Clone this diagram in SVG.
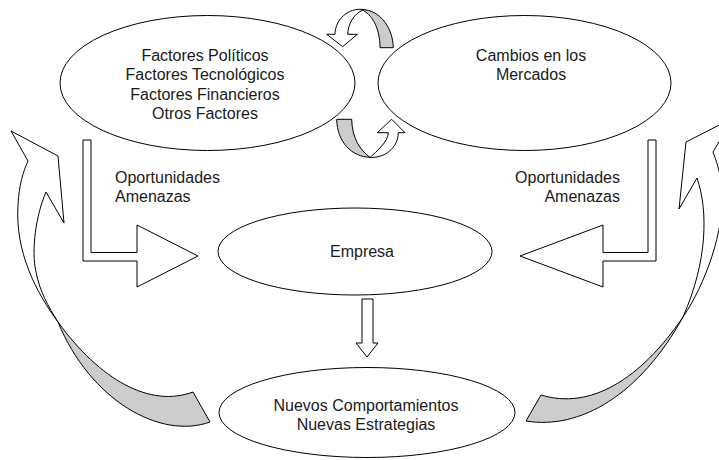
<svg xmlns="http://www.w3.org/2000/svg" width="719" height="460" viewBox="0 0 719 460">
<style>
.node{fill:#fff;stroke:#000;stroke-width:1}
.arr{fill:#fff;stroke:#000;stroke-width:1;stroke-linejoin:miter}
.back{fill:#cccccc;stroke:#000;stroke-width:1}
text{font-family:"Liberation Sans",Arial,sans-serif;font-size:16px;fill:#1a1a1a}
.c{text-anchor:middle}
.r{text-anchor:end}
</style>
<rect width="719" height="460" fill="#fff"/>
<g id="connectors">
  <!-- top swap arrow -->
  <path class="back" d="M380,47.7 L393.3,47.7 C393,30 382,10 361,9.3 C372,14 380,28 380,47.7 Z"/>
  <path class="arr" d="M361,9.3 C345,9 335,22 335,34.3 L326.7,34.3 L342.7,46.7 L357.3,34.3 L347.7,34.3 C348,24 354,14 362,10.5 Z"/>
  <!-- bottom swap arrow -->
  <path class="back" d="M336.7,119.3 L351.7,119.3 C352,138 360,150 370,157.3 C352,157 337,142 336.7,119.3 Z"/>
  <path class="arr" d="M370,157.5 C377,151 388,142 388.3,132.7 L377.3,132.7 L391.7,119.3 L405,132.7 L398.3,132.7 C398,148 385,158 370,157.5 Z"/>
  <!-- left bent arrow -->
  <path class="arr" d="M83,140 L91,140 L91,252.5 L137,252.5 L137,225 L198,256 L137,287 L137,261 L83,261 Z"/>
  <!-- right bent arrow -->
  <path class="arr" d="M656,140 L648,140 L648,252.5 L603,252.5 L603,225 L520,256 L603,287 L603,261 L656,261 Z"/>
  <!-- down arrow -->
  <path class="arr" d="M362,299 L373,299 L373,343 L378,343 L367,357 L356,343 L362,343 Z"/>
  <!-- left curved arrow -->
  <path class="back" d="M58,322 C100,380 150,408 193,392 L210,422 C160,440 90,400 58,322 Z"/>
  <path class="arr" d="M28,161 L11,131 L58,156 L64,223 L46,192 C36,215 31,250 36,272 C40,292 48,306 58,322 C36,292 15,252 18,205 C19,185 23,172 28,161 Z"/>
  <!-- right curved arrow -->
  <path class="back" d="M683,317 C640,380 590,410 541,395 L526,421 C580,430 640,395 683,317 Z"/>
  <path class="arr" d="M713,152 L733,118 L686,142 L679,209 L697,178 C708,210 708,260 683,317 C705,285 725,230 722,190 C720,170 716,160 713,152 Z"/>
</g>
<g id="politicos">
  <ellipse class="node" cx="207.5" cy="83" rx="147.5" ry="67.5"/>
  <text class="c" x="205" y="60.5">Factores Políticos</text>
  <text class="c" x="205" y="80">Factores Tecnológicos</text>
  <text class="c" x="205" y="99.5">Factores Financieros</text>
  <text class="c" x="205" y="119">Otros Factores</text>
</g>
<g id="mercados">
  <ellipse class="node" cx="524.5" cy="83" rx="146.5" ry="67.5"/>
  <text class="c" x="531" y="60.5">Cambios en los</text>
  <text class="c" x="531" y="80">Mercados</text>
</g>
<g id="empresa">
  <ellipse class="node" cx="355" cy="251.5" rx="137" ry="43.5"/>
  <text class="c" x="362" y="257">Empresa</text>
</g>
<g id="nuevos">
  <ellipse class="node" cx="367" cy="412.5" rx="148" ry="45"/>
  <text class="c" x="366" y="411">Nuevos Comportamientos</text>
  <text class="c" x="366" y="430">Nuevas Estrategias</text>
</g>
<g id="labels">
  <text x="115" y="183">Oportunidades</text>
  <text x="115" y="202">Amenazas</text>
  <text class="r" x="620" y="183">Oportunidades</text>
  <text class="r" x="620" y="202">Amenazas</text>
</g>
</svg>
